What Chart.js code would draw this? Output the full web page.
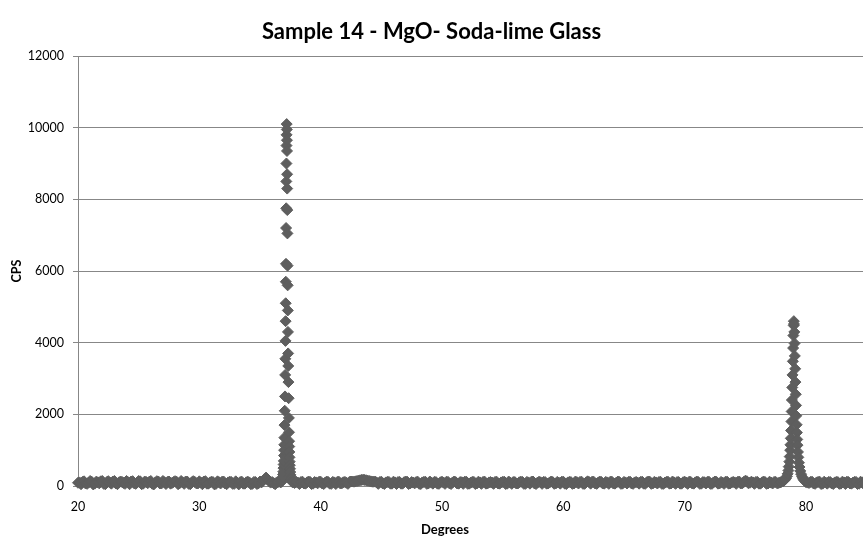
<!DOCTYPE html>
<html>
<head>
<meta charset="utf-8">
<script src="https://cdn.jsdelivr.net/npm/chart.js@4.4.1/dist/chart.umd.min.js"></script>
<style>
  html, body { margin: 0; padding: 0; background: #ffffff; overflow: hidden; }
  canvas { display: block; }
</style>
</head>
<body>
<canvas id="c" width="863" height="540"></canvas>
<script>
// ---------------- DATA ----------------
const chartTitle = 'Sample 14 - MgO- Soda-lime Glass';
const xAxisTitle = 'Degrees';
const yAxisTitle = 'CPS';

const xMin = 20, xMax = 84.7, xStep = 10;
const yMin = 0, yMax = 12000, yStep = 2000;

// background scan on a regular 0.25 degree grid, plus the interleaved half-step readings
const scanStep = 0.25;

const baseA_start = 20.0;    // 20.00 .. 36.50
const baseA_cps = [
  90, 50, 130, 60, 140, 45, 120, 75, 140, 50, 135, 65, 140, 50, 125, 85,
  140, 50, 135, 60, 140, 50, 125, 80, 140, 45, 135, 70, 140, 55, 125, 85,
  135, 50, 140, 60, 125, 50, 135, 75, 130, 50, 135, 65, 120, 45, 130, 70,
  125, 50, 120, 60, 130, 45, 120, 65, 120, 50, 115, 55, 125, 150, 235, 140,
  110, 50, 115
];
const baseA2_start = 20.125; // 20.125 .. 36.375
const baseA2_cps = [
  100, 115, 70, 95, 120, 65, 105, 130, 60, 110, 95, 125, 70, 100, 115, 60,
  105, 125, 75, 95, 130, 65, 110, 120, 60, 100, 125, 70, 105, 115, 65, 110,
  120, 75, 100, 125, 60, 105, 115, 70, 95, 125, 65, 100, 110, 60, 105, 120,
  70, 100, 115, 60, 95, 110, 65, 105, 100, 60, 110, 75, 100, 190, 180, 95,
  80, 100
];

// MgO (111) reflection
const peak1_deg = [
  36.70, 36.78, 36.82, 36.85, 36.88, 36.90, 36.92, 36.935, 36.95, 36.965, 36.98, 36.99, 37.00, 37.01,
  37.021, 37.041, 37.063, 37.076, 37.089, 37.101, 37.11, 37.12, 37.128, 37.143, 37.15, 37.161, 37.168, 37.177, 37.184, 37.191,
  37.20,
  37.211, 37.22, 37.226, 37.236, 37.242, 37.25, 37.26, 37.273, 37.281, 37.294, 37.305, 37.32, 37.329, 37.344, 37.362, 37.38, 37.39,
  37.40, 37.41, 37.42, 37.43, 37.445, 37.46, 37.475, 37.49, 37.51, 37.53, 37.56, 37.59, 37.63, 37.72, 37.85
];
const peak1_cps = [
  100, 120, 160, 200, 250, 320, 400, 500, 600, 700, 850, 1000, 1150, 1350,
  1700, 2100, 2500, 3100, 3550, 4050, 4600, 5100, 5700, 6200, 7200, 7750, 8500, 9000, 9500, 9800,
  10100,
  9950, 9650, 9350, 8700, 8300, 7700, 7050, 6150, 5600, 4900, 4300, 3700, 3350, 2900, 2450, 1900, 1500,
  1250, 1100, 950, 800, 680, 580, 480, 390, 310, 250, 200, 160, 120, 100, 85
];

const baseB_start = 38.0;    // 38.00 .. 77.75
const baseB_cps = [
  115, 55, 120, 65, 125, 55, 110, 75, 120, 55, 125, 65, 115, 55, 120, 75,
  115, 60, 125, 120, 140, 160, 175, 160, 140, 120, 125, 60, 120, 55, 115, 65,
  120, 55, 115, 65, 125, 55, 110, 75, 120, 55, 115, 60, 125, 65, 110, 60,
  120, 60, 115, 55, 125, 70, 110, 60, 120, 65, 115, 55, 120, 60, 125, 70,
  110, 60, 120, 65, 115, 55, 125, 60, 110, 70, 120, 60, 115, 65, 125, 55,
  120, 60, 110, 70, 125, 60, 115, 65, 120, 55, 115, 60, 125, 70, 120, 60,
  130, 65, 120, 60, 125, 70, 115, 60, 120, 65, 125, 60, 115, 70, 120, 60,
  115, 65, 120, 60, 125, 60, 115, 70, 120, 60, 115, 65, 125, 60, 110, 65,
  120, 60, 115, 65, 125, 60, 110, 70, 120, 60, 125, 65, 115, 60, 120, 70,
  115, 60, 125, 75, 145, 80, 120, 60, 115, 65, 125, 60, 120, 70, 115, 85
];
const baseB2_start = 38.125; // 38.125 .. 77.875
const baseB2_cps = [
  95, 110, 70, 100, 115, 65, 100, 120, 70, 95, 110, 60, 100, 115, 70, 105,
  90, 115, 125, 130, 150, 170, 170, 150, 130, 120, 95, 110, 70, 100, 115, 65,
  100, 110, 65, 105, 120, 70, 95, 110, 60, 100, 120, 70, 95, 115, 65, 105,
  95, 120, 70, 100, 110, 65, 105, 120, 60, 95, 115, 70, 100, 110, 65, 100,
  95, 115, 70, 100, 120, 65, 95, 110, 70, 105, 115, 60, 100, 120, 70, 95,
  105, 115, 65, 100, 110, 70, 95, 120, 65, 100, 110, 70, 105, 115, 60, 100,
  110, 120, 70, 95, 115, 65, 100, 120, 70, 95, 110, 65, 100, 115, 70, 100,
  95, 115, 65, 105, 120, 70, 100, 110, 60, 95, 120, 70, 100, 110, 65, 105,
  95, 120, 70, 100, 110, 65, 105, 115, 60, 100, 115, 70, 95, 120, 65, 100,
  100, 115, 70, 115, 135, 90, 100, 115, 65, 100, 110, 70, 95, 115, 75, 100
];

// MgO (222) reflection
const peak2_deg = [
  77.95, 78.12, 78.24, 78.35, 78.43, 78.49, 78.55, 78.58, 78.63, 78.66, 78.70, 78.72, 78.75, 78.77,
  78.80, 78.82, 78.84, 78.87, 78.89, 78.92, 78.94, 78.96, 78.99, 79.00,
  79.01, 79.04, 79.06, 79.08, 79.11, 79.13, 79.16, 79.18, 79.20, 79.23, 79.25, 79.28, 79.30, 79.34,
  79.37, 79.42, 79.47, 79.53, 79.60, 79.68, 79.76, 79.86, 79.98
];
const peak2_cps = [
  110, 135, 165, 210, 270, 340, 430, 540, 680, 820, 1000, 1150, 1330, 1550,
  1800, 2080, 2400, 2750, 3100, 3480, 3850, 4200, 4480, 4600,
  4520, 4300, 3980, 3630, 3270, 2900, 2560, 2250, 1960, 1710, 1490, 1300, 1140, 950,
  800, 650, 530, 420, 330, 260, 200, 155, 120
];

const baseC_start = 80.0;    // 80.00 .. 85.00
const baseC_cps = [
  110, 85, 120, 60, 115, 55, 120, 65, 110, 55, 115, 60, 120, 55, 110, 65, 115, 55, 120, 60, 110
];
const baseC2_start = 80.125; // 80.125 .. 84.875
const baseC2_cps = [
  95, 115, 70, 100, 120, 65, 95, 115, 70, 100, 110, 65, 100, 120, 70, 95, 115, 65, 100, 110
];

// ---------------- build points ----------------
function gridPoints(start, values) {
  return values.map((v, i) => ({ x: +(start + i * scanStep).toFixed(3), y: v }));
}
function pairPoints(xs, ys) {
  return xs.map((x, i) => ({ x: x, y: ys[i] }));
}
const points = [].concat(
  gridPoints(baseA_start, baseA_cps),
  gridPoints(baseA2_start, baseA2_cps),
  pairPoints(peak1_deg, peak1_cps),
  gridPoints(baseB_start, baseB_cps),
  gridPoints(baseB2_start, baseB2_cps),
  pairPoints(peak2_deg, peak2_cps),
  gridPoints(baseC_start, baseC_cps),
  gridPoints(baseC2_start, baseC2_cps)
).sort((a, b) => a.x - b.x);

// ---------------- chart ----------------
const FONT = "Lato, 'Open Sans', sans-serif";
const axisGray = '#878787';
const markColor = '#5e5e5e';

const xTitlePlugin = {
  id: 'xTitle',
  afterDraw(chart) {
    const xs = chart.scales.x;
    const t = xs.ticks;
    const cx = (xs.getPixelForValue(t[0].value) + xs.getPixelForValue(t[t.length - 1].value)) / 2 + 3;
    const c = chart.ctx;
    c.save();
    c.font = "bold 13px " + FONT;
    c.fillStyle = '#000';
    c.textAlign = 'center';
    c.textBaseline = 'middle';
    c.fillText(xAxisTitle, cx, xs.bottom - 10);
    c.restore();
  }
};

new Chart(document.getElementById('c'), {
  type: 'scatter',
  data: {
    datasets: [{
      data: points,
      pointStyle: 'rectRot',
      pointRadius: 5.5,
      pointHoverRadius: 5.5,
      borderWidth: 1,
      backgroundColor: markColor,
      borderColor: markColor,
      showLine: false,
      clip: false
    }]
  },
  options: {
    responsive: false,
    animation: false,
    devicePixelRatio: 1,
    layout: { padding: 0, autoPadding: false },
    plugins: {
      legend: { display: false },
      tooltip: { enabled: false },
      title: {
        display: true,
        text: chartTitle,
        color: '#000',
        font: { family: FONT, size: 22, weight: 'bold', lineHeight: 1.2 },
        padding: { top: 19, bottom: 10.6 }
      }
    },
    scales: {
      x: {
        type: 'linear',
        min: xMin,
        max: xMax,
        afterFit(s) { s.height = 54; },
        ticks: {
          stepSize: xStep,
          includeBounds: false,
          color: '#000',
          font: { family: FONT, size: 12.5 },
          padding: 13,
          maxRotation: 0,
          callback: (v) => String(v)
        },
        grid: { display: false, drawTicks: false },
        border: { display: true, color: axisGray, width: 1 }
      },
      y: {
        min: yMin,
        max: yMax,
        afterFit(s) { s.width = 78; },
        ticks: {
          stepSize: yStep,
          color: '#000',
          font: { family: FONT, size: 12.5 },
          padding: 9,
          callback: (v) => String(v)
        },
        grid: { color: axisGray, lineWidth: 1, tickLength: 5, drawTicks: true },
        border: { display: true, color: axisGray, width: 1 },
        title: {
          display: true,
          text: yAxisTitle,
          color: '#000',
          font: { family: FONT, size: 12.5, weight: 'bold' },
          padding: { top: 9, bottom: 0 }
        }
      }
    }
  },
  plugins: [xTitlePlugin]
});
</script>
</body>
</html>
